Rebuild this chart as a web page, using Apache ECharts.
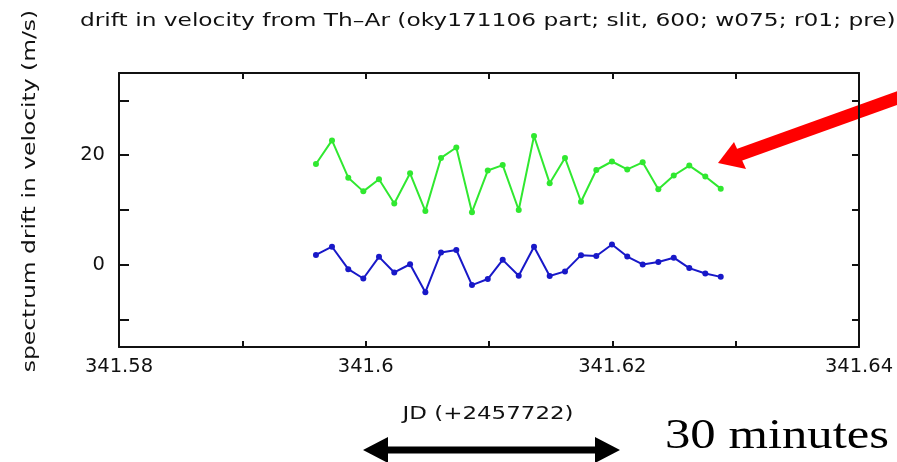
<!DOCTYPE html>
<html>
<head>
<meta charset="utf-8">
<script src="https://cdn.jsdelivr.net/npm/echarts@6/dist/echarts.min.js"></script>
<style>
  html, body { margin: 0; padding: 0; background: #fff; }
</style>
</head>
<body>
<div id="line" style="width: 897px; height: 462px"></div>
<script type="text/javascript">
// JD - 2457722 for each exposure
var jd = [
  341.59597, 341.59727, 341.59859, 341.59981, 341.60108, 341.60232, 341.60360,
  341.60484, 341.60611, 341.60735, 341.60862, 341.60990, 341.61111, 341.61241,
  341.61365, 341.61492, 341.61616, 341.61746, 341.61870, 341.61997, 341.62121,
  341.62246, 341.62373, 341.62498, 341.62624, 341.62754, 341.62879
];
// upper curve (green)
var greenDrift = [
  18.4, 22.7, 15.9, 13.4, 15.6, 11.2, 16.7, 9.8, 19.5, 21.4, 9.6, 17.2, 18.2, 10.0,
  23.5, 14.9, 19.5, 11.5, 17.3, 18.85, 17.4, 18.7, 13.8, 16.3, 18.1, 16.1, 13.9
];
// lower curve (blue)
var blueDrift = [
  1.8, 3.3, -0.8, -2.5, 1.45, -1.4, 0.1, -5.0, 2.25, 2.7, -3.7, -2.6, 0.9, -2.0,
  3.3, -2.05, -1.2, 1.76, 1.6, 3.7, 1.5, 0.06, 0.5, 1.3, -0.6, -1.6, -2.2
];
var xTicks = [341.59, 341.6, 341.61, 341.62, 341.63];
var xLabels = [341.58, 341.6, 341.62, 341.64];
var yTicks = [-10, 0, 10, 20, 30];
var yLabels = [0, 20];

var myChart = echarts.init(document.getElementById("line"), null, { renderer: "canvas" });

function pairs(xs, ys) {
  var out = [];
  for (var i = 0; i < xs.length; i++) out.push([xs[i], ys[i]]);
  return out;
}

var font = "DejaVu Sans";
// the source picture is stretched sideways, text too
var stretch = 1.35;
var axisLine = { show: true, onZero: false, lineStyle: { color: "#111", width: 2 } };

var option = {
  animation: false,
  grid: { left: 119, right: 38, top: 73, bottom: 115 },
  xAxis: [
    {
      type: "value",
      min: 341.58,
      max: 341.64,
      interval: 0.01,
      axisLine: axisLine,
      splitLine: { show: false },
      axisTick: { inside: true, length: 6, customValues: xTicks, lineStyle: { width: 2, color: "#111" } },
      axisLabel: {
        customValues: xLabels,
        margin: 10,
        fontFamily: font,
        fontSize: 19.5,
        color: "#111",
        formatter: function (v) { return String(parseFloat(v.toFixed(2))); }
      }
    },
    {
      type: "value",
      position: "top",
      min: 341.58,
      max: 341.64,
      interval: 0.01,
      axisLine: axisLine,
      splitLine: { show: false },
      axisTick: { inside: true, length: 6, customValues: xTicks, lineStyle: { width: 2, color: "#111" } },
      axisLabel: { show: false }
    }
  ],
  yAxis: [
    {
      type: "value",
      min: -15,
      max: 35,
      interval: 5,
      axisLine: axisLine,
      splitLine: { show: false },
      axisTick: { inside: true, length: 10, customValues: yTicks, lineStyle: { width: 2, color: "#111" } },
      axisLabel: { customValues: yLabels, margin: 14, fontFamily: font, fontSize: 19.5, color: "#111" }
    },
    {
      type: "value",
      position: "right",
      min: -15,
      max: 35,
      interval: 5,
      axisLine: axisLine,
      splitLine: { show: false },
      axisTick: { inside: true, length: 7, customValues: yTicks, lineStyle: { width: 2, color: "#111" } },
      axisLabel: { show: false }
    }
  ],
  series: [
    {
      type: "line",
      data: pairs(jd, greenDrift),
      symbol: "circle",
      symbolSize: 6,
      lineStyle: { color: "#30e830", width: 2 },
      itemStyle: { color: "#30e830" }
    },
    {
      type: "line",
      data: pairs(jd, blueDrift),
      symbol: "circle",
      symbolSize: 6,
      lineStyle: { color: "#1818c8", width: 2 },
      itemStyle: { color: "#1818c8" }
    }
  ],
  graphic: [
    // title
    {
      type: "text",
      x: 80,
      y: 22,
      scaleX: 1.37,
      style: {
        text: "drift in velocity from Th\u2013Ar (oky171106 part; slit, 600; w075; r01; pre)",
        fontFamily: font,
        fontSize: 17,
        fill: "#111",
        align: "left",
        verticalAlign: "middle"
      }
    },
    // y axis name
    {
      type: "text",
      x: 30,
      y: 191,
      rotation: Math.PI / 2,
      scaleX: 1.3,
      style: {
        text: "spectrum drift in velocity (m/s)",
        fontFamily: font,
        fontSize: 18,
        fill: "#111",
        align: "center",
        verticalAlign: "middle"
      }
    },
    // x axis name
    {
      type: "text",
      x: 488,
      y: 415,
      scaleX: stretch,
      style: {
        text: "JD (+2457722)",
        fontFamily: font,
        fontSize: 17,
        fill: "#111",
        align: "center",
        verticalAlign: "middle"
      }
    },
    {
      type: "text",
      x: 665,
      y: 437,
      scaleX: 1.18,
      style: {
        text: "30 minutes",
        font: '43px "Liberation Serif", "Times New Roman", Times, serif',
        fill: "#000",
        align: "left",
        verticalAlign: "middle"
      }
    },
    // black double arrow (30 minutes)
    {
      type: "polygon",
      shape: {
        points: [[363, 450], [388, 437], [388, 446.5], [595, 446.5], [595, 437], [620, 450],
                 [595, 463], [595, 453.5], [388, 453.5], [388, 463]]
      },
      style: { fill: "#000" }
    },
    // red pointer arrow
    {
      type: "line",
      shape: { x1: 900, y1: 97, x2: 736, y2: 156 },
      style: { stroke: "#ff0000", lineWidth: 13 }
    },
    {
      type: "polygon",
      shape: { points: [[718, 163], [734, 142], [746, 169]] },
      style: { fill: "#ff0000" }
    }
  ]
};
myChart.setOption(option);
</script>
</body>
</html>
